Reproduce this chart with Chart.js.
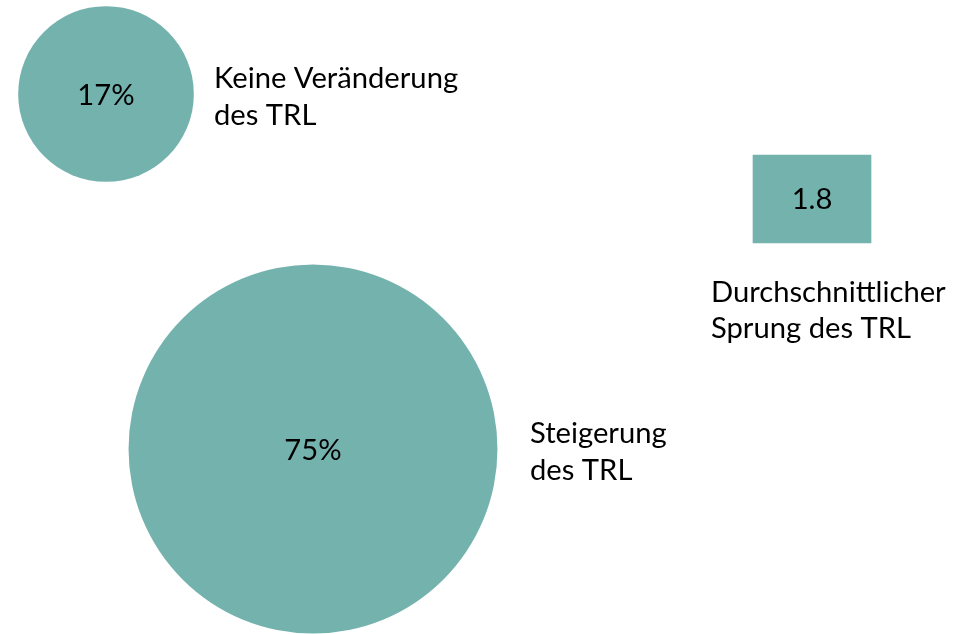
<!DOCTYPE html>
<html><head><meta charset="utf-8">
<script src="https://cdn.jsdelivr.net/npm/chart.js@4/dist/chart.umd.min.js"></script>
<style>html,body{margin:0;padding:0;background:#fff;overflow:hidden}canvas{display:block}</style>
</head><body>
<canvas id="c" width="976" height="634"></canvas>
<script>
// ---- data ----
const categories = ["Keine Veränderung des TRL", "Steigerung des TRL"];
const shares = [17, 75];                 // percent
const shareLabels = ["17%", "75%"];
const avgJumpLabel = "Durchschnittlicher Sprung des TRL";
const avgJump = 1.8;

// ---- layout (scale units, 0..976 x 0..634) ----
const bubbleX = [106, 313];
const bubbleY = [94, 449];
const boxX = 812, boxY = [155, 243], boxW = 118;
const RADIUS_K = 21.3;
const FILL = '#74B2AE';
const FONT = 'Lato, "Open Sans", sans-serif';
const FONT_SIZE = 29.2;

const labelLines = [["Keine Veränderung", "des TRL"], ["Steigerung", "des TRL"]];
const labelPos = [[214, 88], [530, 443]];
const boxLabelLines = ["Durchschnittlicher", "Sprung des TRL"];
const boxLabelPos = [711, 302];

const textPlugin = {
  id: 'texts',
  afterDatasetsDraw(chart) {
    const ctx = chart.ctx;
    ctx.save();
    ctx.fillStyle = '#000';
    ctx.font = FONT_SIZE + 'px ' + FONT;
    const bubbles = chart.getDatasetMeta(0).data;
    ctx.textAlign = 'center'; ctx.textBaseline = 'middle';
    bubbles.forEach((el, i) => ctx.fillText(shareLabels[i], el.x, el.y + 2));
    const bar = chart.getDatasetMeta(1).data[0];
    ctx.fillText(String(avgJump), bar.x, (bar.y + bar.base) / 2 + 1);
    ctx.textAlign = 'left'; ctx.textBaseline = 'alphabetic';
    const xs = chart.scales.x, ys = chart.scales.y;
    labelLines.forEach((lines, i) => {
      lines.forEach((t, j) => ctx.fillText(t, xs.getPixelForValue(labelPos[i][0]), ys.getPixelForValue(labelPos[i][1]) + j * 37));
    });
    boxLabelLines.forEach((t, j) => ctx.fillText(t, xs.getPixelForValue(boxLabelPos[0]), ys.getPixelForValue(boxLabelPos[1]) + j * 36));
    ctx.restore();
  }
};

new Chart(document.getElementById('c'), {
  data: {
    datasets: [
      {
        type: 'bubble',
        label: 'Anteil',
        data: shares.map((v, i) => ({ x: bubbleX[i], y: bubbleY[i], r: RADIUS_K * Math.sqrt(v) })),
        backgroundColor: FILL, borderWidth: 0, hoverBorderWidth: 0
      },
      {
        type: 'bar',
        label: avgJumpLabel,
        data: [{ x: boxX, y: boxY }],
        backgroundColor: FILL, borderWidth: 0, barThickness: boxW
      }
    ]
  },
  options: {
    responsive: false, animation: false, devicePixelRatio: 1,
    layout: { padding: 0, autoPadding: false },
    plugins: { legend: { display: false }, tooltip: { enabled: false } },
    scales: {
      x: { type: 'linear', min: 0, max: 976, offset: false, display: false },
      y: { type: 'linear', min: 0, max: 634, reverse: true, display: false }
    }
  },
  plugins: [textPlugin]
});
</script>
</body></html>
